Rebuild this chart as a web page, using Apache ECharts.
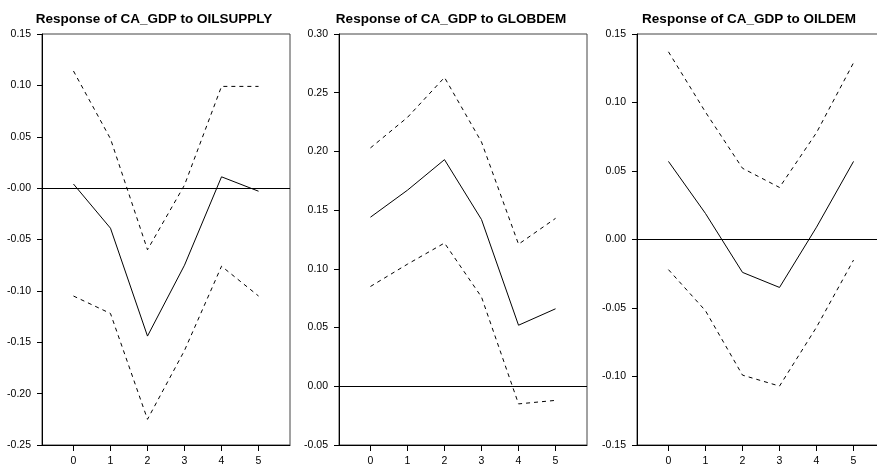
<!DOCTYPE html>
<html>
<head>
<meta charset="utf-8">
<script src="https://cdn.jsdelivr.net/npm/echarts@6/dist/echarts.min.js"></script>
<style>
html, body { margin: 0; padding: 0; background: #fff; }
#main { width: 877px; height: 469px; }
</style>
</head>
<body>
<div id="main"></div>
<script>
var titles = ['Response of CA_GDP to OILSUPPLY', 'Response of CA_GDP to GLOBDEM', 'Response of CA_GDP to OILDEM'];
var periods = [0, 1, 2, 3, 4, 5];

// OILSUPPLY
var resp1 = [0.004, -0.039, -0.144, -0.075, 0.011, -0.003];
var upper1 = [0.114, 0.048, -0.060, 0.003, 0.099, 0.099];
var lower1 = [-0.105, -0.122, -0.225, -0.158, -0.076, -0.105];
var yLabels1 = ['-0.25', '-0.20', '-0.15', '-0.10', '-0.05', '-0.00', '0.05', '0.10', '0.15'];

// GLOBDEM
var resp2 = [0.144, 0.167, 0.193, 0.142, 0.052, 0.066];
var upper2 = [0.203, 0.229, 0.263, 0.208, 0.121, 0.143];
var lower2 = [0.085, 0.104, 0.122, 0.076, -0.015, -0.012];
var yLabels2 = ['-0.05', '0.00', '0.05', '0.10', '0.15', '0.20', '0.25', '0.30'];

// OILDEM
var resp3 = [0.057, 0.019, -0.024, -0.035, 0.009, 0.057];
var upper3 = [0.137, 0.093, 0.052, 0.038, 0.078, 0.129];
var lower3 = [-0.022, -0.052, -0.099, -0.107, -0.064, -0.015];
var yLabels3 = ['-0.15', '-0.10', '-0.05', '0.00', '0.05', '0.10', '0.15'];

var yRanges = [[-0.25, 0.15], [-0.05, 0.30], [-0.15, 0.15]];
var yLabels = [yLabels1, yLabels2, yLabels3];
var resps = [resp1, resp2, resp3];
var uppers = [upper1, upper2, upper3];
var lowers = [lower1, lower2, lower3];

var gridLefts = [42, 339, 637];
var titleCenters = [149, 446, 744];
var labelFont = 'Liberation Sans';

function pairs(arr) {
    return arr.map(function (v, i) { return [periods[i], v]; });
}

var option = {
    animation: false,
    backgroundColor: '#fff',
    title: [],
    grid: [],
    xAxis: [],
    yAxis: [],
    series: []
};

for (var k = 0; k < 3; k++) {
    option.title.push({
        text: titles[k],
        left: titleCenters[k],
        top: 7,
        textAlign: 'center',
        textStyle: { fontFamily: 'Liberation Sans', fontWeight: 'bold', fontSize: 13.5, color: '#000' }
    });
    option.grid.push({
        left: gridLefts[k],
        top: 34,
        width: 248,
        height: 411,
        outerBoundsMode: 'none',
        show: true,
        borderColor: '#444',
        borderWidth: 1
    });
    option.xAxis.push({
        type: 'value',
        gridIndex: k,
        min: -0.85,
        max: 5.85,
        axisLine: { show: true, onZero: false, lineStyle: { color: '#000', width: 1 } },
        axisTick: { show: true, length: 6, customValues: periods, lineStyle: { color: '#000' } },
        axisLabel: {
            show: true, margin: 11, customValues: periods,
            fontFamily: labelFont, fontSize: 10.5, color: '#000'
        },
        splitLine: { show: false }
    });
    (function (labels) {
        option.yAxis.push({
            type: 'value',
            gridIndex: k,
            min: yRanges[k][0],
            max: yRanges[k][1],
            interval: 0.05,
            axisLine: { show: true, onZero: false, lineStyle: { color: '#000', width: 1 } },
            axisTick: { show: true, length: 5, lineStyle: { color: '#000' } },
            axisLabel: {
                show: true, margin: 11, fontFamily: labelFont, fontSize: 10.5, color: '#000',
                formatter: function (v, i) { return labels[i] !== undefined ? labels[i] : v.toFixed(2); }
            },
            splitLine: { show: false }
        });
    })(yLabels[k]);
    option.series.push({
        type: 'line',
        xAxisIndex: k,
        yAxisIndex: k,
        data: pairs(resps[k]),
        symbol: 'none',
        lineStyle: { color: '#000', width: 1, type: 'solid' },
        markLine: {
            silent: true,
            symbol: 'none',
            label: { show: false },
            lineStyle: { color: '#000', width: 1, type: 'solid' },
            data: [{ yAxis: 0 }]
        }
    });
    option.series.push({
        type: 'line',
        xAxisIndex: k,
        yAxisIndex: k,
        data: pairs(uppers[k]),
        symbol: 'none',
        lineStyle: { color: '#000', width: 1, type: [4, 4] }
    });
    option.series.push({
        type: 'line',
        xAxisIndex: k,
        yAxisIndex: k,
        data: pairs(lowers[k]),
        symbol: 'none',
        lineStyle: { color: '#000', width: 1, type: [4, 4] }
    });
}

var dom = document.getElementById('main');
var myChart = echarts.init(dom, null, { renderer: 'canvas' });
myChart.setOption(option);
</script>
</body>
</html>
